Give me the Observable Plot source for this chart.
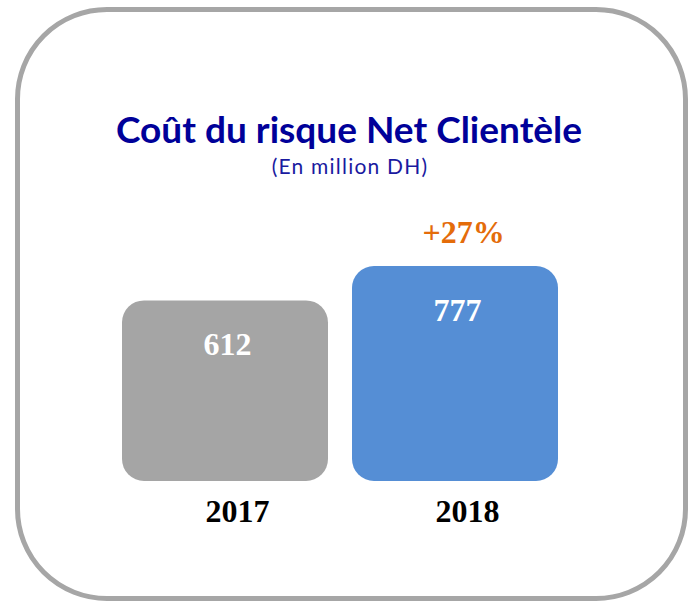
<!DOCTYPE html>
<html>
<head>
<meta charset="utf-8">
<script src="https://cdn.jsdelivr.net/npm/d3@7"></script>
<script src="https://cdn.jsdelivr.net/npm/@observablehq/plot@0.6"></script>
<style>
  html, body { margin: 0; padding: 0; background: #fff; width: 689px; height: 603px; overflow: hidden; }
  #frame { position: absolute; left: 15px; top: 7px; width: 673px; height: 594px; box-sizing: border-box;
           border: 5px solid #a6a6a6; border-radius: 92px; }
  #title { position: absolute; left: 0; top: 110px; width: 698px; text-align: center;
           font-family: Lato, sans-serif; font-weight: 700; font-size: 37px; line-height: 37px; color: #000099; white-space: nowrap; }
  #subtitle { position: absolute; left: 0; top: 155px; width: 700px; text-align: center;
           font-family: Lato, sans-serif; font-weight: 400; font-size: 21px; line-height: 21px; letter-spacing: 1.2px; color: #1a1aa0; white-space: nowrap; }
  #chart { position: absolute; left: 0; top: 190px; }
</style>
</head>
<body>
<div id="frame"></div>
<div id="title">Coût du risque Net Clientèle</div>
<div id="subtitle">(En million DH)</div>
<div id="chart"></div>
<script>
const years = [2017, 2018];
const values = [612, 777];
const changeYears = [2018];
const changeLabels = ["+27%"];

const data = years.map((year, i) => ({year, value: values[i]}));
const changes = changeYears.map((year, i) => ({year, label: changeLabels[i], value: values[years.indexOf(year)]}));

const yBase = -255;
const serif = "'Liberation Serif', 'DejaVu Serif', serif";

const chart = Plot.plot({
  width: 689,
  height: 360,
  x: {type: "band", domain: years, range: [121, 559], paddingInner: 0.103, paddingOuter: 0, axis: null},
  y: {domain: [yBase, 777], range: [291, 76], axis: null},
  color: {domain: years, range: ["#a5a5a5", "#558ed5"]},
  marks: [
    Plot.barY(data, {x: "year", y1: () => yBase, y2: "value", fill: "year", rx: 22}),
    Plot.text(data, {x: "year", y: "value", text: d => String(d.value), dy: 54, dx: 2, lineAnchor: "bottom",
      fill: "white", fontSize: 32, fontWeight: "bold", fontFamily: serif}),
    Plot.text(data, {x: "year", y: () => yBase, text: d => String(d.year), dy: 40, dx: 12, lineAnchor: "bottom",
      fill: "black", fontSize: 32, fontWeight: "bold", fontFamily: serif}),
    Plot.text(changes, {x: "year", y: "value", text: "label", dy: -24, dx: 8, lineAnchor: "bottom",
      fill: "#e46c0a", fontSize: 32, fontWeight: "bold", fontFamily: serif})
  ]
});
document.getElementById("chart").appendChild(chart);
</script>
</body>
</html>
